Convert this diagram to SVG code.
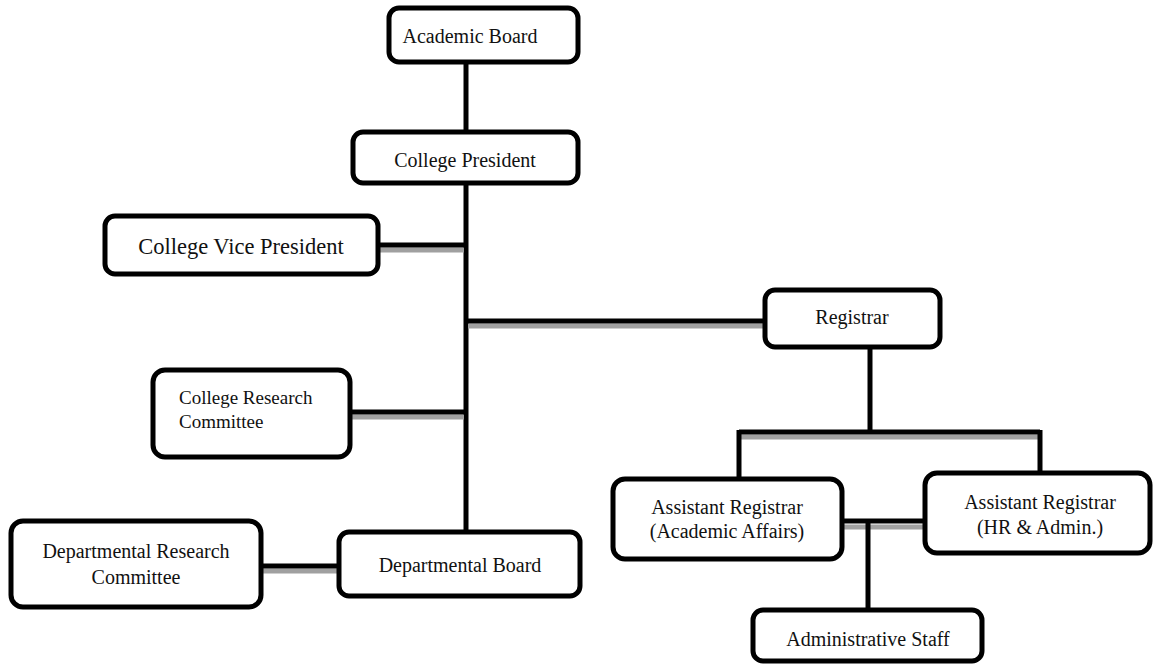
<svg xmlns="http://www.w3.org/2000/svg" width="1155" height="664" viewBox="0 0 1155 664">
<style>
.box{fill:#fff;stroke:#000;stroke-width:5}
.t{font-family:"Liberation Serif","DejaVu Serif",serif;font-size:20px;fill:#111}
.c{stroke:#000;stroke-width:5;fill:none}
.s{stroke:#a0a0a0;stroke-width:5;fill:none}
</style>
<rect width="1155" height="664" fill="#fff"/>
<g id="connectors">
<line class="c" x1="466" y1="62" x2="466" y2="132"/>
<line class="c" x1="466" y1="183" x2="466" y2="532"/>
<line class="s" x1="378" y1="250" x2="464" y2="250"/>
<line class="c" x1="378" y1="245" x2="466" y2="245"/>
<line class="s" x1="468" y1="326" x2="765" y2="326"/>
<line class="c" x1="466" y1="321" x2="765" y2="321"/>
<line class="s" x1="350" y1="417" x2="464" y2="417"/>
<line class="c" x1="350" y1="412" x2="466" y2="412"/>
<line class="s" x1="261" y1="571" x2="339" y2="571"/>
<line class="c" x1="261" y1="566" x2="339" y2="566"/>
<line class="c" x1="870" y1="347" x2="870" y2="432"/>
<line class="s" x1="741" y1="437" x2="1038" y2="437"/>
<line class="c" x1="739" y1="432" x2="1040" y2="432"/>
<line class="c" x1="739" y1="430" x2="739" y2="479"/>
<line class="c" x1="1040" y1="430" x2="1040" y2="473"/>
<line class="s" x1="842" y1="527" x2="925" y2="527"/>
<line class="c" x1="842" y1="521" x2="925" y2="521"/>
<line class="c" x1="868" y1="521" x2="868" y2="610"/>
</g>
<g id="academic-board">
<rect class="box" x="389" y="8" width="189" height="54" rx="10"/>
<text class="t" x="470" y="43" text-anchor="middle">Academic Board</text>
</g>
<g id="college-president">
<rect class="box" x="353" y="132" width="225" height="51" rx="10"/>
<text class="t" x="465" y="167" text-anchor="middle">College President</text>
</g>
<g id="college-vice-president">
<rect class="box" x="105" y="216" width="273" height="58" rx="10"/>
<text class="t" x="241" y="254" text-anchor="middle" style="font-size:22.5px">College Vice President</text>
</g>
<g id="registrar">
<rect class="box" x="765" y="290" width="175" height="57" rx="10"/>
<text class="t" x="852" y="324" text-anchor="middle">Registrar</text>
</g>
<g id="college-research-committee">
<rect class="box" x="153" y="370" width="197" height="87" rx="12"/>
<text class="t" x="179" y="404" style="font-size:19px">College Research</text>
<text class="t" x="179" y="428" style="font-size:19px">Committee</text>
</g>
<g id="departmental-research-committee">
<rect class="box" x="11" y="521" width="250" height="86" rx="12"/>
<text class="t" x="136" y="558" text-anchor="middle">Departmental Research</text>
<text class="t" x="136" y="584" text-anchor="middle">Committee</text>
</g>
<g id="departmental-board">
<rect class="box" x="339" y="532" width="241" height="64" rx="10"/>
<text class="t" x="460" y="572" text-anchor="middle">Departmental Board</text>
</g>
<g id="assistant-registrar-academic">
<rect class="box" x="613" y="479" width="229" height="80" rx="12"/>
<text class="t" x="727" y="514" text-anchor="middle">Assistant Registrar</text>
<text class="t" x="727" y="538" text-anchor="middle">(Academic Affairs)</text>
</g>
<g id="assistant-registrar-hr">
<rect class="box" x="925" y="473" width="225" height="80" rx="12"/>
<text class="t" x="1040" y="509" text-anchor="middle">Assistant Registrar</text>
<text class="t" x="1040" y="534" text-anchor="middle">(HR &amp; Admin.)</text>
</g>
<g id="administrative-staff">
<rect class="box" x="753" y="610" width="229" height="51" rx="10"/>
<text class="t" x="868" y="646" text-anchor="middle">Administrative Staff</text>
</g>
</svg>
